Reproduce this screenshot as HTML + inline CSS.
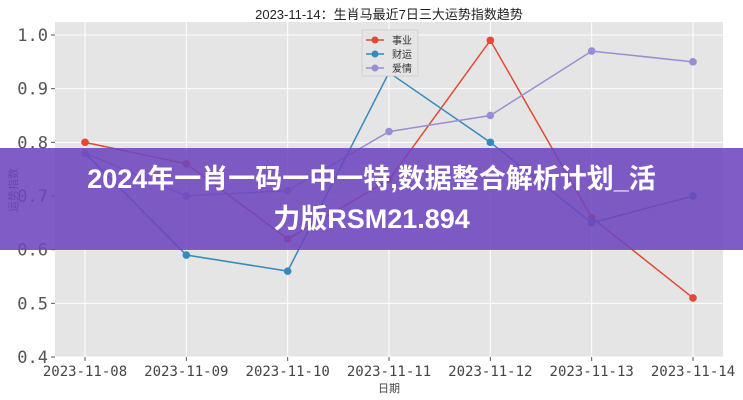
<!DOCTYPE html>
<html><head><meta charset="utf-8"><style>
body{margin:0;width:743px;height:400px;overflow:hidden;background:#fff;font-family:"Liberation Sans","Noto Sans CJK SC",sans-serif;}
#banner{position:absolute;left:0;top:148px;width:743px;height:102px;background:rgba(110,70,190,0.88);color:#fff;font-weight:bold;font-size:27px;text-align:center;line-height:40px;padding-top:11px;box-sizing:border-box;font-family:"Liberation Sans","Noto Sans CJK SC",sans-serif;}
</style></head><body>
<svg id="chart" width="743" height="400" style="position:absolute;left:0;top:0"></svg>
<div id="banner">2024年一肖一码一中一特,数据整合解析计划_活<br>力版RSM21.894</div>
<script>
const categories=["2023-11-08","2023-11-09","2023-11-10","2023-11-11","2023-11-12","2023-11-13","2023-11-14"];
const career=[0.80,0.76,0.62,0.73,0.99,0.66,0.51];
const wealth=[0.78,0.59,0.56,0.93,0.80,0.65,0.70];
const love=[0.78,0.70,0.71,0.82,0.85,0.97,0.95];
const yTicks=[0.4,0.5,0.6,0.7,0.8,0.9,1.0];
const seriesNames=["事业","财运","爱情"];
const NS="http://www.w3.org/2000/svg";
const svg=document.getElementById("chart");
const L=55,R=723,T=22,B=357;
const x=i=>85+i*(693-85)/(categories.length-1);
const y=v=>357-(v-0.4)*(357-35)/0.6;
function mk(tag,attrs,parent){const e=document.createElementNS(NS,tag);for(const k in attrs)e.setAttribute(k,attrs[k]);(parent||svg).appendChild(e);return e;}
const bg=mk("rect",{x:L,y:T,width:R-L,height:B-T,fill:"#E5E5E5"});


yTicks.forEach(t=>{
  const g=mk("line",{x1:L,x2:R,y1:y(t),y2:y(t),stroke:"#fff","stroke-width":1});
  
  
  mk("line",{x1:L-4,x2:L,y1:y(t),y2:y(t),stroke:"#555"});
  const tx=mk("text",{x:L-7,y:y(t)+6,"text-anchor":"end","font-size":17,fill:"#555","font-family":"DejaVu Sans Mono, monospace"});
  tx.textContent=t.toFixed(1);
  
  
});
categories.forEach((c,i)=>{
  const g=mk("line",{x1:x(i),x2:x(i),y1:T,y2:B,stroke:"#fff","stroke-width":1});
  
  
  mk("line",{x1:x(i),x2:x(i),y1:B,y2:B+4,stroke:"#555"});
  const tx=mk("text",{x:x(i),y:B+19,"text-anchor":"middle","font-size":14,fill:"#444","font-family":"DejaVu Sans Mono, monospace"});
  tx.textContent=c;
  
  
});
const series=[[career,"#E24A33"],[wealth,"#348ABD"],[love,"#988ED5"]];
series.forEach(([d,col],si)=>{
  const p=mk("polyline",{points:d.map((v,i)=>x(i)+","+y(v)).join(" "),fill:"none",stroke:col,"stroke-width":1.5});
  
  
  d.forEach((v,i)=>{
    const c=mk("circle",{cx:x(i),cy:y(v),r:3.8,fill:col});
    
    
  });
});
const lg=mk("g",{});


mk("rect",{x:362,y:30,width:56,height:46,fill:"#E5E5E5",stroke:"#ccc","stroke-width":0.8},lg);
series.forEach(([d,col],si)=>{
  const yy=40+si*14;
  mk("line",{x1:366,x2:384,y1:yy,y2:yy,stroke:col,"stroke-width":1.5},lg);
  mk("circle",{cx:375,cy:yy,r:3.5,fill:col},lg);
  const t=mk("text",{x:392,y:yy+4,"font-size":10,fill:"#333"},lg);
  t.textContent=seriesNames[si];
  
  
});
const title=mk("text",{x:389,y:19,"text-anchor":"middle","font-size":13,fill:"#222"});
title.textContent="2023-11-14：生肖马最近7日三大运势指数趋势";


const xl=mk("text",{x:389,y:392,"text-anchor":"middle","font-size":11,fill:"#444"});
xl.textContent="日期";


const yl=mk("text",{x:17,y:190,"text-anchor":"middle","font-size":11,fill:"#444",transform:"rotate(-90 17 190)"});
yl.textContent="运势指数";


</script>
</body></html>
